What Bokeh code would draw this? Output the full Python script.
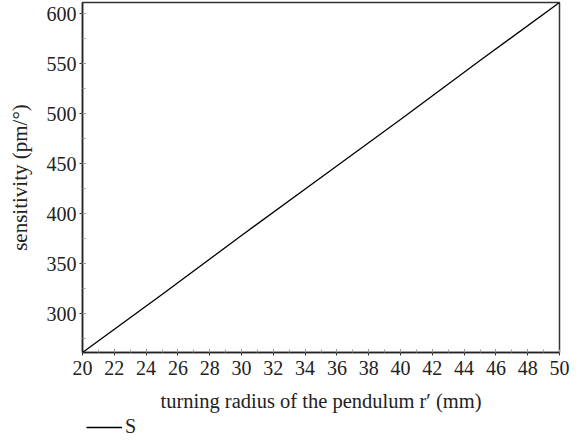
from bokeh.plotting import figure
from bokeh.layouts import column
from bokeh.models import Range1d, SingleIntervalTicker, Legend, LegendItem, ColumnDataSource
from bokeh.embed import file_html
from bokeh.resources import INLINE

radius_mm = [20, 25, 30, 35, 40, 45, 50]
sensitivity = [261, 319, 378, 436, 494, 553, 611]
x_ticks = list(range(20, 51, 2))
y_ticks = [300, 350, 400, 450, 500, 550, 600]
series_name = "S"

FONT = "Liberation Serif"

p = figure(frame_width=477, frame_height=350, output_backend="svg", toolbar_location=None,
           x_range=Range1d(20, 50), y_range=Range1d(261, 611),
           min_border_left=82, min_border_right=18, min_border_top=2, min_border_bottom=0)
p.grid.visible = False
p.outline_line_color = "#333333"
p.outline_line_width = 1.5
p.background_fill_color = "white"

src = ColumnDataSource(dict(x=radius_mm, y=sensitivity))
r = p.line("x", "y", source=src, line_color="black", line_width=1.3)

p.xaxis.ticker = SingleIntervalTicker(interval=2, num_minor_ticks=2)
p.yaxis.ticker = SingleIntervalTicker(interval=50, num_minor_ticks=2)
p.xaxis.axis_label = "turning radius of the pendulum r\u2032 (mm)"
p.yaxis.axis_label = "sensitivity (pm/\u00b0)"

for ax in (p.xaxis[0], p.yaxis[0]):
    ax.axis_line_color = "#222222"
    ax.axis_line_width = 1.5
    ax.major_tick_line_color = "#333333"
    ax.minor_tick_line_color = "#999999"
    ax.major_tick_in = 3
    ax.major_tick_out = 3
    ax.minor_tick_in = 3
    ax.minor_tick_out = 0
    ax.major_label_text_font = FONT
    ax.major_label_text_font_size = "20px"
    ax.major_label_text_color = "#222222"
    ax.axis_label_text_font = FONT
    ax.axis_label_text_font_style = "normal"
    ax.axis_label_text_color = "#222222"
p.xaxis.axis_label_text_font_size = "20.5px"
p.yaxis.axis_label_text_font_size = "21px"
p.xaxis.major_label_standoff = 5
p.xaxis.axis_label_standoff = 12
p.yaxis.major_label_standoff = 3
p.yaxis.axis_label_standoff = 12

# legend strip below the chart (its frame is aligned with the main frame)
leg = figure(width=577, height=26, output_backend="svg", toolbar_location=None,
             x_axis_type=None, y_axis_type=None,
             x_range=Range1d(0, 1), y_range=Range1d(0, 1),
             min_border=0)
leg.grid.visible = False
leg.outline_line_color = None
leg_src = ColumnDataSource(dict(x=[5, 6], y=[5, 5]))
lr = leg.line("x", "y", source=leg_src, line_color="black", line_width=1.3)
legend = Legend(items=[LegendItem(label=series_name, renderers=[lr])],
                location=(4, 2), orientation="horizontal",
                border_line_color=None, background_fill_alpha=0,
                label_text_font=FONT, label_text_font_size="20px",
                label_text_color="#222222",
                glyph_width=36, glyph_height=20, label_height=20,
                label_standoff=3, padding=0, margin=0, spacing=0)
leg.add_layout(legend)

layout = column(p, leg, spacing=0)
open("out.html", "w").write(file_html(layout, INLINE))
